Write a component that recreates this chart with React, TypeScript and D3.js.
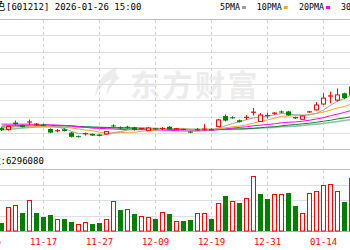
import React from "react";
import * as d3 from "d3";

const dates = ["11-07","11-10","11-11","11-12","11-13","11-14","11-17","11-18","11-19","11-20","11-21","11-24","11-25","11-26","11-27","11-28","12-01","12-02","12-03","12-04","12-05","12-08","12-09","12-10","12-11","12-12","12-15","12-16","12-17","12-18","12-19","12-22","12-23","12-24","12-25","12-26","12-29","12-30","12-31","01-05","01-06","01-07","01-08","01-09","01-12","01-13","01-14","01-15","01-16","01-19","01-20"];
const tickDates = ["11-05","11-17","11-27","12-09","12-19","12-31","01-14"];
const tickIndex = [-2, 6, 14, 22, 30, 38, 46];

const opens = [3.66,3.62,3.83,3.74,3.81,3.74,3.77,3.63,3.57,3.62,3.52,3.41,3.48,3.48,3.46,3.48,3.74,3.68,3.70,3.68,3.62,3.58,3.65,3.63,3.70,3.62,3.63,3.55,3.60,3.61,3.60,3.71,4.03,3.99,3.90,3.97,4.12,3.86,4.06,4.10,4.17,4.17,4.00,3.93,4.13,4.22,4.40,4.63,4.52,4.73,4.68];
const closes = [3.60,3.71,3.78,3.69,3.85,3.78,3.74,3.52,3.58,3.57,3.39,3.40,3.49,3.43,3.42,3.55,3.71,3.65,3.68,3.60,3.65,3.66,3.62,3.65,3.62,3.64,3.60,3.52,3.61,3.63,3.61,3.91,3.89,3.98,3.85,3.99,4.15,4.06,4.05,4.12,4.16,4.05,3.96,4.03,4.16,4.37,4.58,4.65,4.68,4.58,4.92];
const highs = [3.69,3.74,3.89,3.77,3.92,3.81,3.79,3.65,3.63,3.65,3.54,3.43,3.52,3.49,3.48,3.57,3.77,3.71,3.73,3.70,3.66,3.68,3.66,3.69,3.72,3.65,3.64,3.56,3.66,3.78,3.65,3.94,4.08,4.02,3.92,4.06,4.28,4.12,4.13,4.15,4.20,4.19,4.01,4.05,4.18,4.46,4.73,4.78,4.88,4.75,5.05];
const lows = [3.57,3.58,3.74,3.68,3.75,3.72,3.72,3.50,3.53,3.56,3.37,3.37,3.43,3.42,3.41,3.47,3.68,3.62,3.64,3.58,3.60,3.57,3.60,3.60,3.60,3.60,3.59,3.50,3.58,3.58,3.59,3.70,3.86,3.95,3.83,3.91,4.05,3.86,3.96,4.07,4.12,4.04,3.94,3.92,4.13,4.20,4.37,4.42,4.47,4.55,4.63];
const prevCloseBefore = 3.65;
const volumes = [0.50,1.53,1.68,1.14,2.00,1.14,0.92,1.03,0.75,0.80,0.55,0.45,0.56,0.43,0.54,0.80,1.94,1.35,1.40,1.08,0.98,0.92,0.77,1.24,1.08,0.66,0.65,0.71,1.18,1.14,0.77,1.83,2.26,1.94,1.79,2.11,3.57,2.37,2.06,2.37,2.37,2.43,1.61,1.14,2.43,2.58,2.97,3.03,2.58,1.85,3.40];

const ma5 = [3.66,3.68,3.70,3.71,3.73,3.76,3.77,3.72,3.69,3.64,3.56,3.49,3.49,3.46,3.43,3.46,3.52,3.55,3.60,3.64,3.66,3.65,3.64,3.64,3.64,3.64,3.63,3.61,3.60,3.60,3.59,3.66,3.73,3.80,3.85,3.92,3.97,4.01,4.02,4.07,4.11,4.09,4.07,4.06,4.07,4.11,4.22,4.36,4.49,4.57,4.68];
const ma10 = [3.68,3.69,3.70,3.70,3.70,3.70,3.70,3.70,3.69,3.68,3.66,3.63,3.60,3.58,3.53,3.51,3.51,3.52,3.53,3.53,3.56,3.58,3.60,3.62,3.64,3.65,3.64,3.62,3.62,3.62,3.62,3.64,3.67,3.70,3.72,3.76,3.81,3.87,3.91,3.96,4.02,4.03,4.04,4.04,4.07,4.11,4.15,4.21,4.28,4.32,4.40];
const ma20 = [3.78,3.78,3.78,3.78,3.78,3.77,3.77,3.76,3.75,3.74,3.72,3.70,3.68,3.66,3.65,3.64,3.63,3.62,3.61,3.61,3.61,3.61,3.60,3.60,3.59,3.58,3.57,3.57,3.57,3.58,3.59,3.61,3.63,3.66,3.68,3.70,3.73,3.75,3.77,3.79,3.82,3.84,3.85,3.87,3.90,3.94,3.98,4.04,4.09,4.14,4.21];
const ma30 = [3.72,3.73,3.73,3.74,3.74,3.74,3.74,3.74,3.74,3.74,3.73,3.71,3.70,3.69,3.68,3.68,3.67,3.67,3.66,3.66,3.65,3.65,3.64,3.63,3.63,3.62,3.62,3.61,3.61,3.61,3.61,3.62,3.62,3.63,3.63,3.64,3.65,3.67,3.69,3.70,3.73,3.75,3.77,3.79,3.81,3.84,3.87,3.90,3.94,3.97,4.01];
const ma60 = [3.60,3.62,3.64,3.66,3.68,3.69,3.70,3.70,3.70,3.70,3.70,3.69,3.69,3.68,3.68,3.67,3.67,3.66,3.66,3.66,3.65,3.65,3.65,3.64,3.64,3.63,3.63,3.62,3.62,3.62,3.62,3.62,3.62,3.63,3.63,3.64,3.65,3.66,3.67,3.68,3.70,3.71,3.72,3.74,3.76,3.78,3.80,3.83,3.86,3.89,3.92];

const legendNames = ["5PMA", "10PMA", "20PMA", "30PMA"];
const priceTicks = [3.0, 3.5, 4.0, 4.5, 5.0, 5.5, 6.0, 6.5, 7.0];
const volTicks = [0, 1, 2, 3, 4];

const RED = "#ff0000";
const GREEN = "#008000";
const MA_COLORS = ["#a0a0a0", "#f5a623", "#ff00ff", "#1b7a3a", "#8cc49a"];

export default function App() {
  const W = 350, H = 250;
  const x = d3.scaleLinear().domain([0, 1]).range([1.5, 8.5]);
  const y = d3.scaleLinear().domain([3.0, 7.0]).range([149.5, 19.5]);
  const yv = d3.scaleLinear().domain([0, 4]).range([231.5, 169.5]);
  const crisp = (v: number) => Math.round(v - 0.5) + 0.5;
  const mono = "'DejaVu Sans Mono', 'Noto Sans CJK SC', monospace";

  const idx = d3.range(dates.length);
  const lineGen = (arr: number[]) =>
    d3.line<number>().x((i) => x(i)).y((i) => y(arr[i]))(idx) || "";
  const mas = [ma60, ma30, ma20, ma10, ma5];
  const maCols = [MA_COLORS[4], MA_COLORS[3], MA_COLORS[2], MA_COLORS[1], MA_COLORS[0]];

  return (
    <svg width={W} height={H} viewBox={`0 0 ${W} ${H}`}
      style={{ position: "absolute", left: 0, top: 0, background: "#fff" }}>
      <rect width={W} height={H} fill="#fff" />
      {/* watermark */}
      <g fill="#ececec">
        <path d="M117,67 C104,72 96,82 95,97 C99,88 105,82 112,79 C108,84 106,90 107,96 C110,86 116,80 120,78 C116,76 115,72 117,67 Z" />
        <text x={130} y={96} fontSize={30} fontWeight={700} letterSpacing={2.5}
          fontFamily="'Noto Sans CJK SC', sans-serif">东方财富</text>
      </g>
      {/* price grid */}
      {priceTicks.map((t) => (
        <line key={"pg" + t} x1={0} x2={W} y1={crisp(y(t))} y2={crisp(y(t))}
          stroke={t === 3.0 || t === 7.0 ? "#bdbdbd" : "#dedede"} strokeWidth={1} />
      ))}
      {volTicks.map((t) => (
        <line key={"vg" + t} x1={0} x2={W} y1={crisp(yv(t))} y2={crisp(yv(t))}
          stroke={t === 0 ? "#b0b0b0" : t === 4 ? "#bdbdbd" : "#dedede"} strokeWidth={1} />
      ))}
      {tickIndex.map((ti, k) => (
        <g key={"vx" + k}>
          <line x1={x(ti)} x2={x(ti)} y1={20} y2={149} stroke="#cfcfcf" strokeDasharray="3,3" />
          <line x1={x(ti)} x2={x(ti)} y1={170} y2={231} stroke="#cfcfcf" strokeDasharray="3,3" />
          <text x={x(ti)} y={245} textAnchor="middle" fontSize={9} fill={RED}
            fontFamily={mono}>{tickDates[k]}</text>
        </g>
      ))}
      {/* MA lines */}
      {mas.map((m, k) => (
        <path key={"ma" + k} d={lineGen(m)} fill="none" stroke={maCols[k]}
          strokeWidth={k === 0 ? 1.6 : 1} />
      ))}
      {/* candles */}
      {idx.map((i) => {
        const o = opens[i], c = closes[i];
        const pc = i === 0 ? prevCloseBefore : closes[i - 1];
        const up = c > o || (c === o && c >= pc);
        const col = up ? RED : GREEN;
        const cx = x(i);
        const top = y(Math.max(o, c)), bot = y(Math.min(o, c));
        const h = Math.max(1, bot - top);
        return (
          <g key={"k" + i}>
            <line x1={cx} x2={cx} y1={y(highs[i])} y2={y(lows[i])} stroke={col} />
            {up ? (
              h > 2 ? <rect x={cx - 2} y={top} width={4} height={h} fill="#fff" stroke={col} />
                : <rect x={cx - 2.5} y={top - 0.5} width={5} height={1.2} fill={col} />
            ) : (
              <rect x={cx - 2.5} y={top} width={5} height={h} fill={col} />
            )}
          </g>
        );
      })}
      {/* volume */}
      {idx.map((i) => {
        const pc = i === 0 ? prevCloseBefore : closes[i - 1];
        const up = closes[i] >= pc;
        const cx = x(i);
        const top = yv(volumes[i]);
        const bot = yv(0) - 0.5;
        return up ? (
          <rect key={"v" + i} x={cx - 2} y={crisp(top)} width={4} height={bot - crisp(top)}
            fill="#fff" stroke={RED} />
        ) : (
          <rect key={"v" + i} x={cx - 2.5} y={crisp(top) - 0.5} width={5} height={bot - crisp(top) + 0.5}
            fill={GREEN} />
        );
      })}
      {/* header */}
      <text x={5.5} y={10} textAnchor="end" fontSize={11} fill="#000"
        fontFamily="'Noto Sans CJK SC', sans-serif">白银有色</text>
      <text x={6} y={10} fontSize={9} fill="#000" fontFamily={mono}>[601212] 2026-01-26 15:00</text>
      {[220, 256.7, 299, 341].map((lx, k) => (
        <g key={"lg" + k}>
          <text x={lx} y={10} fontSize={8.3} fill="#000" fontFamily={mono}>{legendNames[k]}</text>
          <rect x={lx + 5 * legendNames[k].length + 2} y={6} width={4} height={3} fill={MA_COLORS[k]} />
        </g>
      ))}
      <text x={1} y={164} textAnchor="end" fontSize={10} fill="#000"
        fontFamily="'Noto Sans CJK SC', sans-serif">成交量</text>
      <text x={0.5} y={164} fontSize={9} fill="#000" fontFamily={mono}>:6296080</text>
    </svg>
  );
}
